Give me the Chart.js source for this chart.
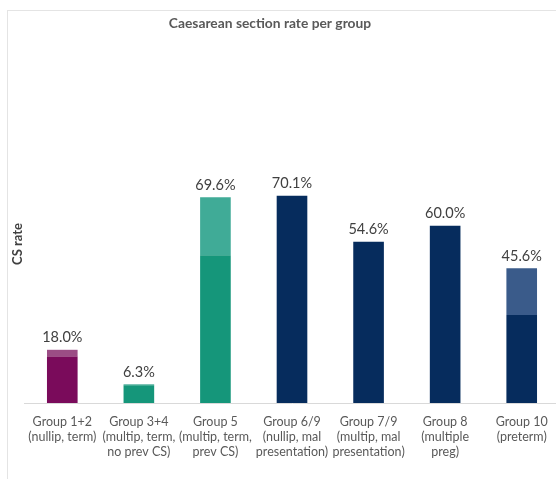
<!DOCTYPE html>
<html lang="en">
<head>
    <meta charset="UTF-8">
    <title>Caesarean section rate per group</title>
    <script src="https://cdn.jsdelivr.net/npm/chart.js"></script>
    <style>
        html, body {
            margin: 0;
            padding: 0;
            background: #ffffff;
            overflow: hidden;
        }
        #frame {
            position: absolute;
            left: 7px;
            top: 10px;
            width: 553px;
            height: 469px;
            border-left: 1px solid #e4e4e4;
            border-top: 1px solid #e4e4e4;
        }
        canvas {
            display: block;
        }
    </style>
</head>
<body>
    <div id="frame">
        <canvas id="csChart" width="552" height="469"></canvas>
    </div>

    <script>
        const groups = [
            ["Group 1+2", "(nullip, term)"],
            ["Group 3+4", "(multip, term,", "no prev CS)"],
            ["Group 5", "(multip, term,", "prev CS)"],
            ["Group 6/9", "(nullip, mal", "presentation)"],
            ["Group 7/9", "(multip, mal", "presentation)"],
            ["Group 8", "(multiple", "preg)"],
            ["Group 10", "(preterm)"]
        ];
        // lower (solid) part and lighter upper part of each bar, in %
        const lowerRate = [15.7, 6.0, 50.0, 70.1, 54.6, 60.0, 29.8];
        const upperRate = [2.3, 0.3, 19.6, 0, 0, 0, 15.8];
        const lowerColors = ["#7a0b5b", "#15967a", "#15967a", "#062c5d", "#062c5d", "#062c5d", "#062c5d"];
        const upperColors = ["#9b4d85", "#2fa08a", "#40ab97", "#062c5d", "#062c5d", "#062c5d", "#3a5b8a"];

        const chartTitle = "Caesarean section rate per group";
        const yTitle = "CS rate";
        const fontFamily = "Lato, 'Open Sans', sans-serif";

        // total value above each stacked bar, plus the titles (placed like the Excel original)
        const labelsPlugin = {
            id: "labelsPlugin",
            afterDatasetsDraw(chart) {
                const ctx = chart.ctx;
                const top = chart.getDatasetMeta(1);
                ctx.save();
                ctx.font = "14.5px " + fontFamily;
                ctx.fillStyle = "#404040";
                ctx.textAlign = "center";
                ctx.textBaseline = "bottom";
                top.data.forEach((bar, i) => {
                    let total = lowerRate[i] + upperRate[i];
                    ctx.fillText(total.toFixed(1) + "%", bar.x, bar.y - 5);
                });

                ctx.font = "bold 13.8px " + fontFamily;
                ctx.fillStyle = "#595959";
                ctx.textBaseline = "middle";
                ctx.fillText(chartTitle, 262, 13);

                ctx.translate(10, 233);
                ctx.rotate(-Math.PI / 2);
                ctx.font = "bold 13px " + fontFamily;
                ctx.fillStyle = "#404040";
                ctx.fillText(yTitle, 0, 0);
                ctx.restore();
            }
        };

        let ctx = document.getElementById("csChart").getContext("2d");
        let chart = new Chart(ctx, {
            type: "bar",
            data: {
                labels: groups,
                datasets: [
                    {
                        label: "lower",
                        data: lowerRate,
                        backgroundColor: lowerColors,
                        barPercentage: 1,
                        categoryPercentage: 0.4
                    },
                    {
                        label: "upper",
                        data: upperRate,
                        backgroundColor: upperColors,
                        barPercentage: 1,
                        categoryPercentage: 0.4
                    }
                ]
            },
            options: {
                responsive: false,
                animation: false,
                layout: {
                    padding: { left: 0, right: 0, top: 126, bottom: 18 }
                },
                plugins: {
                    legend: { display: false },
                    tooltip: { enabled: false },
                    title: { display: false }
                },
                scales: {
                    x: {
                        stacked: true,
                        grid: { display: false },
                        border: { display: true, color: "#d9d9d9" },
                        ticks: {
                            color: "#595959",
                            font: { family: fontFamily, size: 12.5 },
                            padding: 3,
                            maxRotation: 0,
                            autoSkip: false
                        }
                    },
                    y: {
                        stacked: true,
                        min: 0,
                        max: 90,
                        grid: { display: false },
                        border: { display: false },
                        ticks: { display: false },
                        afterFit(axis) {
                            axis.width = 16;
                        }
                    }
                }
            },
            plugins: [labelsPlugin]
        });
    </script>
</body>
</html>
